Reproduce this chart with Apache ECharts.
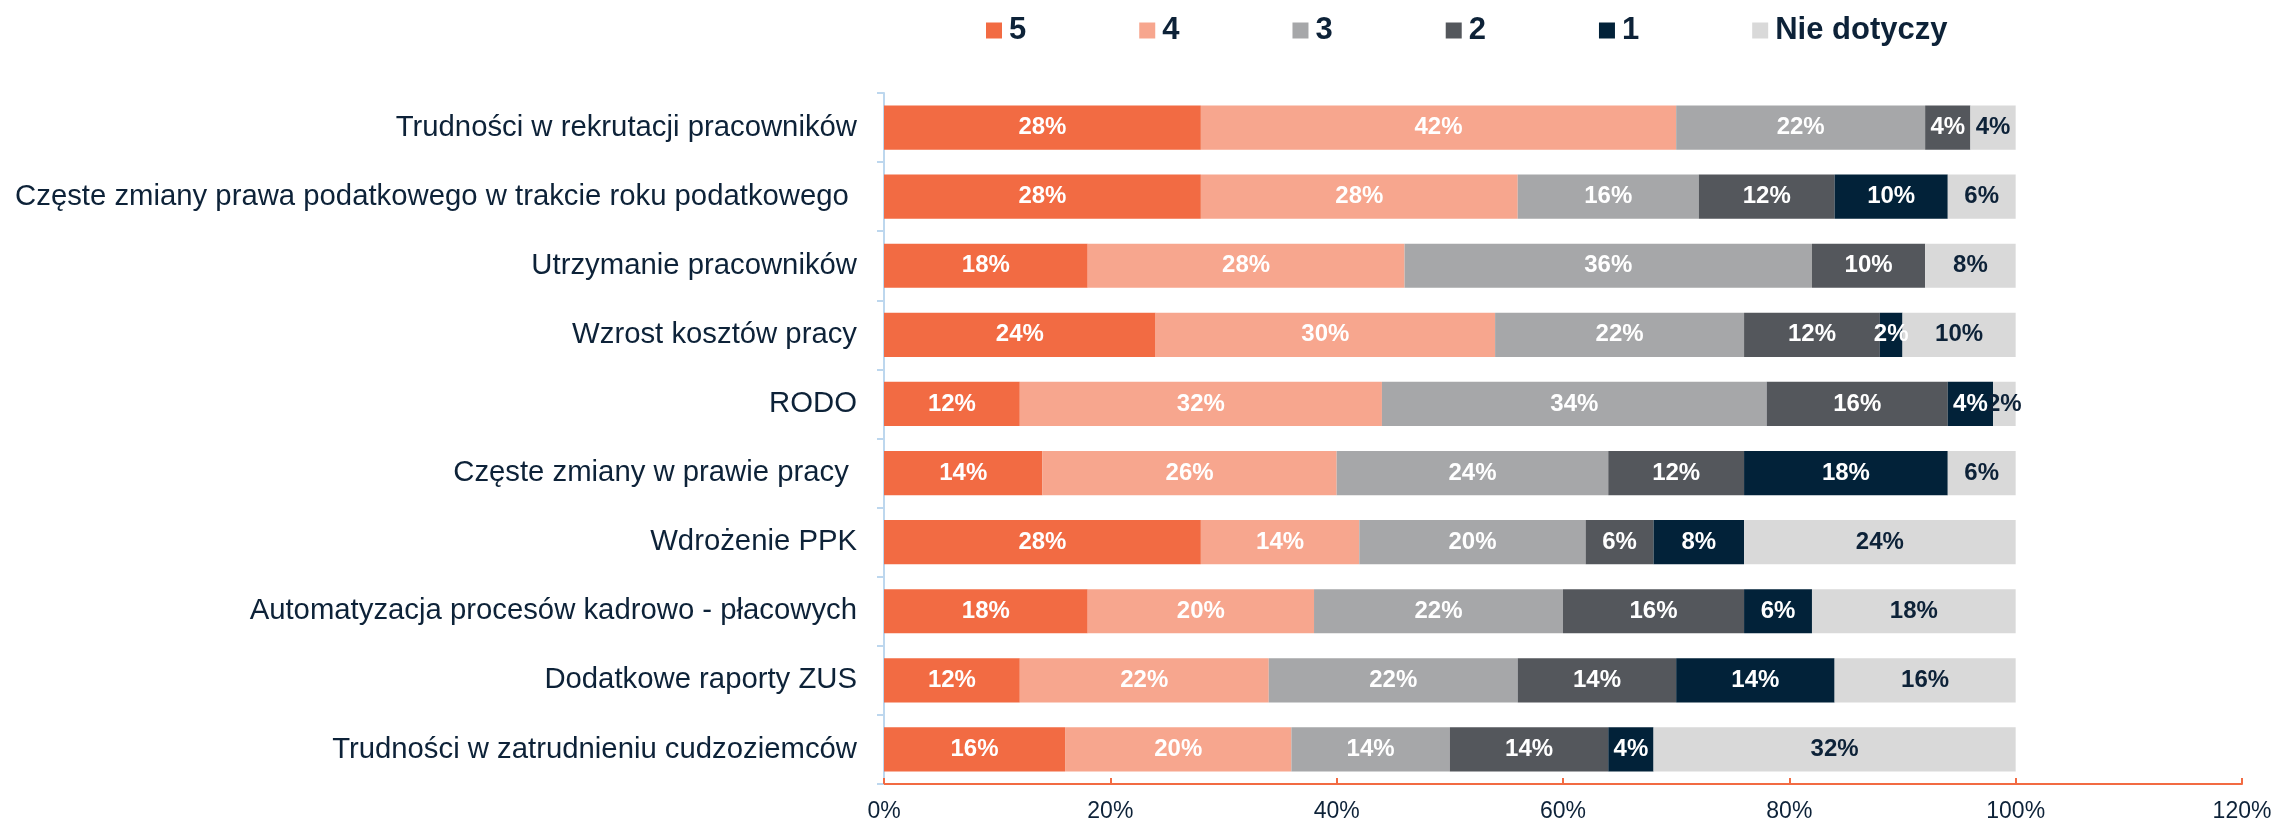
<!DOCTYPE html>
<html>
<head>
<meta charset="utf-8">
<script src="https://cdn.jsdelivr.net/npm/echarts@6/dist/echarts.min.js"></script>
<style>
html,body{margin:0;padding:0;background:#fff;}
#chart{width:2277px;height:823px;}
</style>
</head>
<body>
<div id="chart"></div>
<script>
const categories = [
  'Trudności w rekrutacji pracowników',
  'Częste zmiany prawa podatkowego w trakcie roku podatkowego ',
  'Utrzymanie pracowników',
  'Wzrost kosztów pracy',
  'RODO',
  'Częste zmiany w prawie pracy ',
  'Wdrożenie PPK',
  'Automatyzacja procesów kadrowo - płacowych',
  'Dodatkowe raporty ZUS',
  'Trudności w zatrudnieniu cudzoziemców'
];
const seriesNames = ['5', '4', '3', '2', '1', 'Nie dotyczy'];
const s5  = [28, 28, 18, 24, 12, 14, 28, 18, 12, 16];
const s4  = [42, 28, 28, 30, 32, 26, 14, 20, 22, 20];
const s3  = [22, 16, 36, 22, 34, 24, 20, 22, 22, 14];
const s2  = [4, 12, 10, 12, 16, 12, 6, 16, 14, 14];
const s1  = [0, 10, 0, 2, 4, 18, 8, 6, 14, 4];
const sNA = [4, 6, 8, 10, 2, 6, 24, 18, 16, 32];
const seriesValues = [s5, s4, s3, s2, s1, sNA];

const colors = ['#F26B43', '#F7A68E', '#A6A7A9', '#54575C', '#022239', '#D9D9D9'];
const labelColors = ['#FFFFFF', '#FFFFFF', '#FFFFFF', '#FFFFFF', '#FFFFFF', '#0D2238'];
const navy = '#0D2238';
const font = "'Liberation Sans', Arial, sans-serif";

const chart = echarts.init(document.getElementById('chart'));
chart.setOption({
  animation: false,
  backgroundColor: '#ffffff',
  color: colors,
  legend: {
    data: seriesNames,
    left: 981,
    top: 10,
    icon: 'rect',
    itemWidth: 16,
    itemHeight: 16,
    itemGap: 113,
    textStyle: { fontFamily: font, fontSize: 31, fontWeight: 'bold', color: navy, padding: [0, 0, 0, 2] }
  },
  grid: { left: 884, right: 35, top: 93, bottom: 39, containLabel: false },
  xAxis: {
    type: 'value',
    min: 0,
    max: 120,
    interval: 20,
    axisLine: { show: true, lineStyle: { color: '#F26B43', width: 2 } },
    axisTick: { show: true, inside: true, length: 6, lineStyle: { color: '#F26B43', width: 2 } },
    splitLine: { show: false },
    axisLabel: { formatter: '{value}%', fontFamily: font, fontSize: 23, color: navy, margin: 16 }
  },
  yAxis: {
    type: 'category',
    data: categories,
    inverse: true,
    axisLine: { show: true, lineStyle: { color: '#BDD7EE', width: 2 } },
    axisTick: { show: true, length: 7, lineStyle: { color: '#BDD7EE', width: 2 } },
    axisLabel: { fontFamily: font, fontSize: 29.3, color: navy, margin: 27 }
  },
  series: seriesNames.map((name, i) => ({
    name: name,
    type: 'bar',
    stack: 'total',
    barCategoryGap: '36%',
    data: seriesValues[i],
    itemStyle: { color: colors[i] },
    label: {
      show: true,
      position: 'inside',
      formatter: p => (p.value > 0 ? p.value + '%' : ''),
      fontFamily: font,
      fontSize: 24,
      fontWeight: 'bold',
      color: labelColors[i]
    }
  }))
});
</script>
</body>
</html>
